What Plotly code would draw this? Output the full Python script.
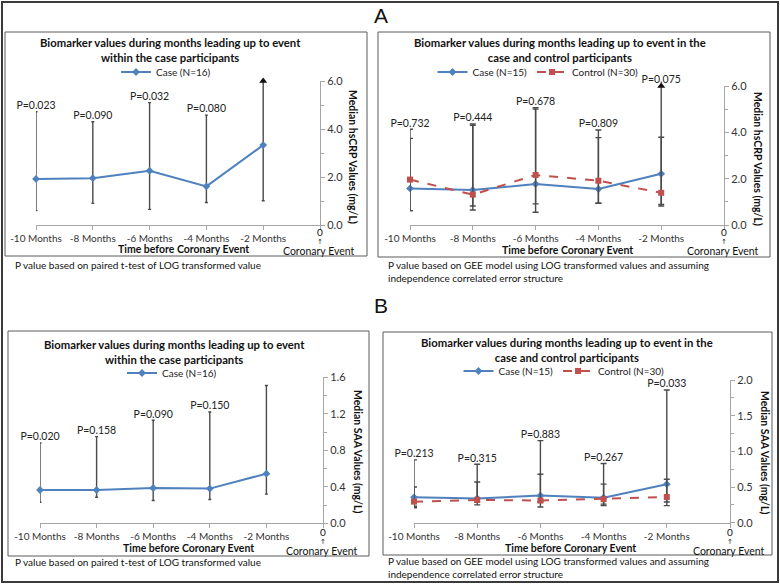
import plotly.graph_objects as go

# ---------------- data ----------------
months = [-10, -8, -6, -4, -2]
month_labels = ["-10 Months", "-8 Months", "-6 Months", "-4 Months", "-2 Months"]

# Panel A (hsCRP) - within cases
a1_case_median = [1.92, 1.95, 2.26, 1.61, 3.33]
a1_case_lo = [0.60, 0.90, 0.65, 0.94, 1.01]
a1_case_hi = [4.72, 4.30, 5.10, 4.58, 6.00]
a1_clipped = [False, False, False, False, True]
a1_p = ["P=0.023", "P=0.090", "P=0.032", "P=0.080", ""]

# Panel A (hsCRP) - case vs control
a2_case_median = [1.58, 1.51, 1.77, 1.55, 2.21]
a2_case_lo = [0.62, 0.65, 0.55, 0.94, 0.82]
a2_case_hi = [4.13, 4.36, 5.06, 4.10, 6.00]
a2_clipped = [False, False, False, False, True]
a2_ctrl_median = [1.96, 1.31, 2.16, 1.91, 1.39]
a2_ctrl_lo = [0.62, 0.82, 0.91, 0.94, 0.89]
a2_ctrl_hi = [3.74, 4.30, 5.00, 3.77, 3.79]
a2_p = ["P=0.732", "P=0.444", "P=0.678", "P=0.809", "P=0.075"]

# Panel B (SAA) - within cases
b1_case_median = [0.365, 0.365, 0.387, 0.380, 0.544]
b1_case_lo = [0.23, 0.285, 0.25, 0.26, 0.32]
b1_case_hi = [0.88, 0.95, 1.13, 1.22, 1.51]
b1_p = ["P=0.020", "P=0.158", "P=0.090", "P=0.150", ""]

# Panel B (SAA) - case vs control
b2_case_median = [0.356, 0.34, 0.38, 0.35, 0.54]
b2_case_lo = [0.21, 0.25, 0.22, 0.24, 0.24]
b2_case_hi = [0.88, 0.82, 1.15, 0.83, 1.86]
b2_ctrl_median = [0.295, 0.32, 0.31, 0.33, 0.36]
b2_ctrl_lo = [0.23, 0.29, 0.29, 0.26, 0.29]
b2_ctrl_hi = [0.50, 0.57, 0.68, 0.54, 0.61]
b2_p = ["P=0.213", "P=0.315", "P=0.883", "P=0.267", "P=0.033"]

case_name_16 = "Case (N=16)"
case_name_15 = "Case (N=15)"
ctrl_name_30 = "Control (N=30)"

# ---------------- style ----------------
W, H = 780, 585
FONT = "Lato"
BLUE = "#4F81BD"
RED = "#C0504D"
ERR = "#4a4a4a"
AX = "#a6a6a6"


def px(x):
    return x / W


def py(y):
    return 1 - y / H


fig = go.Figure()


def err(med, lo, hi, width=2):
    return dict(type="data", symmetric=False,
                array=[h - m for h, m in zip(hi, med)],
                arrayminus=[m - l for m, l in zip(med, lo)],
                color=ERR, thickness=1.4, width=width)


def add_series(med, lo, hi, name, color, dash, symbol, xa, ya, legend, width=2):
    fig.add_trace(go.Scatter(
        x=months, y=med, name=name, mode="lines+markers",
        line=dict(color=color, width=2, dash=dash),
        marker=dict(color=color, size=6, symbol=symbol),
        error_y=err(med, lo, hi, width),
        xaxis=xa, yaxis=ya, legend=legend, cliponaxis=False))


def add_pvals(hi, labels, xa, ya):
    fig.add_trace(go.Scatter(
        x=months, y=hi, text=labels, mode="text", textposition="top center",
        textfont=dict(family=FONT, size=10.5, color="#222"),
        xaxis=xa, yaxis=ya, showlegend=False, cliponaxis=False, hoverinfo="skip"))


def add_arrows(hi, clipped, xa, ya):
    xs = [m for m, c in zip(months, clipped) if c]
    ys = [h for h, c in zip(hi, clipped) if c]
    fig.add_trace(go.Scatter(
        x=xs, y=ys, mode="markers",
        marker=dict(symbol="triangle-up", size=7, color="#111"),
        xaxis=xa, yaxis=ya, showlegend=False, cliponaxis=False, hoverinfo="skip"))


# A left
add_series(a1_case_median, a1_case_lo, a1_case_hi, case_name_16, BLUE, "solid", "diamond", "x", "y", "legend", 1.5)
add_arrows(a1_case_hi, a1_clipped, "x", "y")
add_pvals(a1_case_hi, a1_p, "x", "y")

# A right
add_series(a2_case_median, a2_case_lo, a2_case_hi, case_name_15, BLUE, "solid", "diamond", "x2", "y2", "legend2", 3)
add_series(a2_ctrl_median, a2_ctrl_lo, a2_ctrl_hi, ctrl_name_30, RED, "dash", "square", "x2", "y2", "legend2", 3)
add_arrows(a2_case_hi, a2_clipped, "x2", "y2")
add_pvals(a2_case_hi, a2_p, "x2", "y2")

# B left
add_series(b1_case_median, b1_case_lo, b1_case_hi, case_name_16, BLUE, "solid", "diamond", "x3", "y3", "legend3", 1.5)
add_pvals(b1_case_hi, b1_p, "x3", "y3")

# B right
add_series(b2_case_median, b2_case_lo, b2_case_hi, case_name_15, BLUE, "solid", "diamond", "x4", "y4", "legend4", 3)
add_series(b2_ctrl_median, b2_ctrl_lo, b2_ctrl_hi, ctrl_name_30, RED, "dash", "square", "x4", "y4", "legend4", 3)
add_pvals(b2_case_hi, b2_p, "x4", "y4")


def xaxis(dom, anchor):
    return dict(domain=dom, anchor=anchor, range=[-10, 0], automargin=False,
                tickvals=months + [0], ticktext=month_labels + [""],
                showline=True, linecolor=AX, linewidth=1, ticks="outside",
                ticklen=4, tickcolor=AX, showgrid=False, zeroline=False,
                tickfont=dict(family=FONT, size=10, color="#333"), fixedrange=True)


def yaxis(dom, anchor, rng, dtick, minor):
    return dict(domain=dom, anchor=anchor, side="right", range=rng, automargin=False,
                tick0=0, dtick=dtick, tickformat=".1f",
                showline=True, linecolor=AX, linewidth=1, ticks="outside",
                ticklen=4, tickcolor=AX, showgrid=False, zeroline=False,
                minor=dict(dtick=minor, tick0=0, ticks="outside", ticklen=3, tickcolor=AX, showgrid=False),
                tickfont=dict(family=FONT, size=11, color="#333"), fixedrange=True)


def legend(xc, yc):
    return dict(x=xc, y=yc, xanchor="center", yanchor="middle", orientation="h",
                font=dict(family=FONT, size=10, color="#222"), bgcolor="rgba(0,0,0,0)",
                itemwidth=30, tracegroupgap=0, itemclick=False)


anns = []


def text(x, y, s, size=10, bold=False, xanchor="center", angle=0, align="center", family=FONT):
    anns.append(dict(x=x, y=y, xref="paper", yref="paper", text=(f"<b>{s}</b>" if bold else s),
                     showarrow=False, xanchor=xanchor, yanchor="middle", textangle=angle,
                     align=align, font=dict(family=family, size=size, color="#111")))


# panel decorations
panels = [
    ("Biomarker values during months leading up to event<br>within the case participants", 170, 50,
     "Median hsCRP Values (mg/L)", 353, 157, 183, 249, 320, 232,
     "P value based on paired t-test of LOG transformed value", 13, 265),
    ("Biomarker values during months leading up to event in the<br>case and control participants", 560, 50,
     "Median hsCRP Values (mg/L)", 758, 159, 567, 250, 724, 232,
     "P value based on GEE model using LOG transformed values and assuming<br>independence correlated error structure", 386, 271.5),
    ("Biomarker values during months leading up to event<br>within the case participants", 174, 352,
     "Median SAA Values (mg/L)", 358, 451, 188, 548, 323, 532,
     "P value based on paired t-test of LOG transformed value", 13, 562),
    ("Biomarker values during months leading up to event in the<br>case and control participants", 567, 349.5,
     "Median SAA Values (mg/L)", 765, 452, 570, 547.5, 730, 532,
     "P value based on GEE model using LOG transformed values and assuming<br>independence correlated error structure", 386, 567),
]
for (t, tx, ty, yt, ytx, yty, xtx, xty, cex, zy, fn, fnx, fny) in panels:
    text(px(tx), py(ty), t, size=11.3, bold=True)
    text(px(ytx), py(yty), yt, size=10.5, bold=True, angle=90)
    text(px(xtx), py(xty), "Time before Coronary Event", size=10.5, bold=True)
    text(px(cex), py(zy), "0", size=10)
    text(px(cex), py(zy + 10), "↑", size=7, family="DejaVu Sans")
    text(px(cex - 1), py(zy + 18.5), "Coronary Event", size=10.5)
    text(px(fnx), py(fny), fn, size=10, xanchor="left", align="left")

anns.append(dict(x=px(381), y=py(15), xref="paper", yref="paper", text="A", showarrow=False,
                 yanchor="middle", font=dict(family="Liberation Sans", size=21, color="#111")))
anns.append(dict(x=px(381), y=py(305), xref="paper", yref="paper", text="B", showarrow=False,
                 yanchor="middle", font=dict(family="Liberation Sans", size=21, color="#111")))

shapes = []
for (x0, y0, x1, y1) in [(5, 32, 367, 256), (378, 32, 770, 257), (8, 331, 369, 556), (383, 332, 772, 555)]:
    shapes.append(dict(type="rect", xref="paper", yref="paper", x0=px(x0), x1=px(x1), y0=py(y1), y1=py(y0),
                       line=dict(color="#5a5a5a", width=1)))
shapes.append(dict(type="rect", xref="paper", yref="paper", x0=px(2), x1=px(778), y0=py(582), y1=py(2),
                   line=dict(color="#3a3a3a", width=2)))

fig.update_layout(
    width=W, height=H, margin=dict(l=0, r=0, t=0, b=0, pad=0, autoexpand=False),
    paper_bgcolor="white", plot_bgcolor="white",
    font=dict(family=FONT, size=10, color="#222"),
    xaxis=xaxis([px(36), px(320)], "y"),
    yaxis=yaxis([py(225), py(81)], "x", [0, 6], 2, 1),
    xaxis2=xaxis([px(410), px(724)], "y2"),
    yaxis2=yaxis([py(225), py(86)], "x2", [0, 6], 2, 1),
    xaxis3=xaxis([px(40), px(323)], "y3"),
    yaxis3=yaxis([py(523.3), py(377.3)], "x3", [0, 1.6], 0.4, 0.2),
    xaxis4=xaxis([px(414), px(730)], "y4"),
    yaxis4=yaxis([py(522.7), py(380)], "x4", [0, 2], 0.5, 0.25),
    legend=legend(px(166), py(72)),
    legend2=legend(px(538), py(72)),
    legend3=legend(px(172), py(373)),
    legend4=legend(px(564), py(371)),
    annotations=anns, shapes=shapes,
)

fig.write_html("out.html", config={"displayModeBar": False},
               post_script="document.body.style.margin='0';document.body.style.overflow='hidden';")
